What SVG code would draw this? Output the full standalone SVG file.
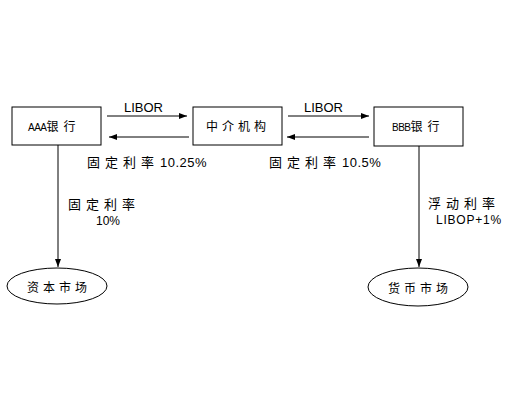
<svg xmlns="http://www.w3.org/2000/svg" width="507" height="410" viewBox="0 0 507 410">
<style>
.box{fill:#fff;stroke:#000;stroke-width:1}
.ln{stroke:#000;stroke-width:1;fill:none}
text{font-family:"Liberation Sans","Noto Sans CJK SC",sans-serif;fill:#000}
.cn{font-size:13px;letter-spacing:5px}
.lat{font-size:13px}
.sub{font-size:12px}
.nd{font-size:12px;letter-spacing:4px;text-anchor:middle}
</style>
<defs>
<marker id="ah" viewBox="0 0 8 6" refX="8" refY="3" markerWidth="8" markerHeight="6" markerUnits="userSpaceOnUse" orient="auto">
<path d="M0,0 L8,3 L0,6 z" fill="#000"/>
</marker>
</defs>
<rect width="507" height="410" fill="#fff"/>
<g id="connectors">
<line class="ln" x1="107" y1="116" x2="187" y2="116" marker-end="url(#ah)"/>
<line class="ln" x1="189" y1="137" x2="109" y2="137" marker-end="url(#ah)"/>
<line class="ln" x1="288" y1="116" x2="369" y2="116" marker-end="url(#ah)"/>
<line class="ln" x1="369" y1="137" x2="287" y2="137" marker-end="url(#ah)"/>
<line class="ln" x1="58" y1="145" x2="58" y2="267" marker-end="url(#ah)"/>
<line class="ln" x1="419" y1="146" x2="419" y2="267" marker-end="url(#ah)"/>
<text class="lat" x="124" y="112">LIBOR</text>
<text class="lat" x="304" y="112">LIBOR</text>
<text x="87" y="167"><tspan class="cn" font-size="14px">固定利率</tspan><tspan class="lat" dx="1" letter-spacing="0.5">10.25%</tspan></text>
<text x="269" y="167"><tspan class="cn" font-size="14px">固定利率</tspan><tspan class="lat" dx="1" letter-spacing="0.5">10.5%</tspan></text>
<text class="cn" x="68" y="209">固定利率</text>
<text class="sub" x="108" y="225" text-anchor="middle">10%</text>
<text class="cn" x="428" y="208">浮动利率</text>
<text class="sub" x="469" y="224" text-anchor="middle" letter-spacing="0.8">LIBOP+1%</text>
</g>
<g id="aaa">
<rect class="box" x="12" y="107" width="89" height="38"/>
<text x="28" y="131" font-size="12px"><tspan font-size="10px" letter-spacing="-0.5">AAA</tspan><tspan>银</tspan><tspan dx="5">行</tspan></text>
</g>
<g id="mid">
<rect class="box" x="193" y="107" width="89" height="38"/>
<text class="nd" x="238" y="131">中介机构</text>
</g>
<g id="bbb">
<rect class="box" x="374" y="107" width="89" height="39"/>
<text x="392" y="131" font-size="12px"><tspan font-size="10px" letter-spacing="-0.5">BBB</tspan><tspan>银</tspan><tspan dx="5">行</tspan></text>
</g>
<g id="capital">
<ellipse class="box" cx="57" cy="286" rx="50" ry="18"/>
<text class="nd" x="59" y="292">资本市场</text>
</g>
<g id="money">
<ellipse class="box" cx="418" cy="287" rx="50" ry="19"/>
<text class="nd" x="420" y="293">货币市场</text>
</g>
</svg>
